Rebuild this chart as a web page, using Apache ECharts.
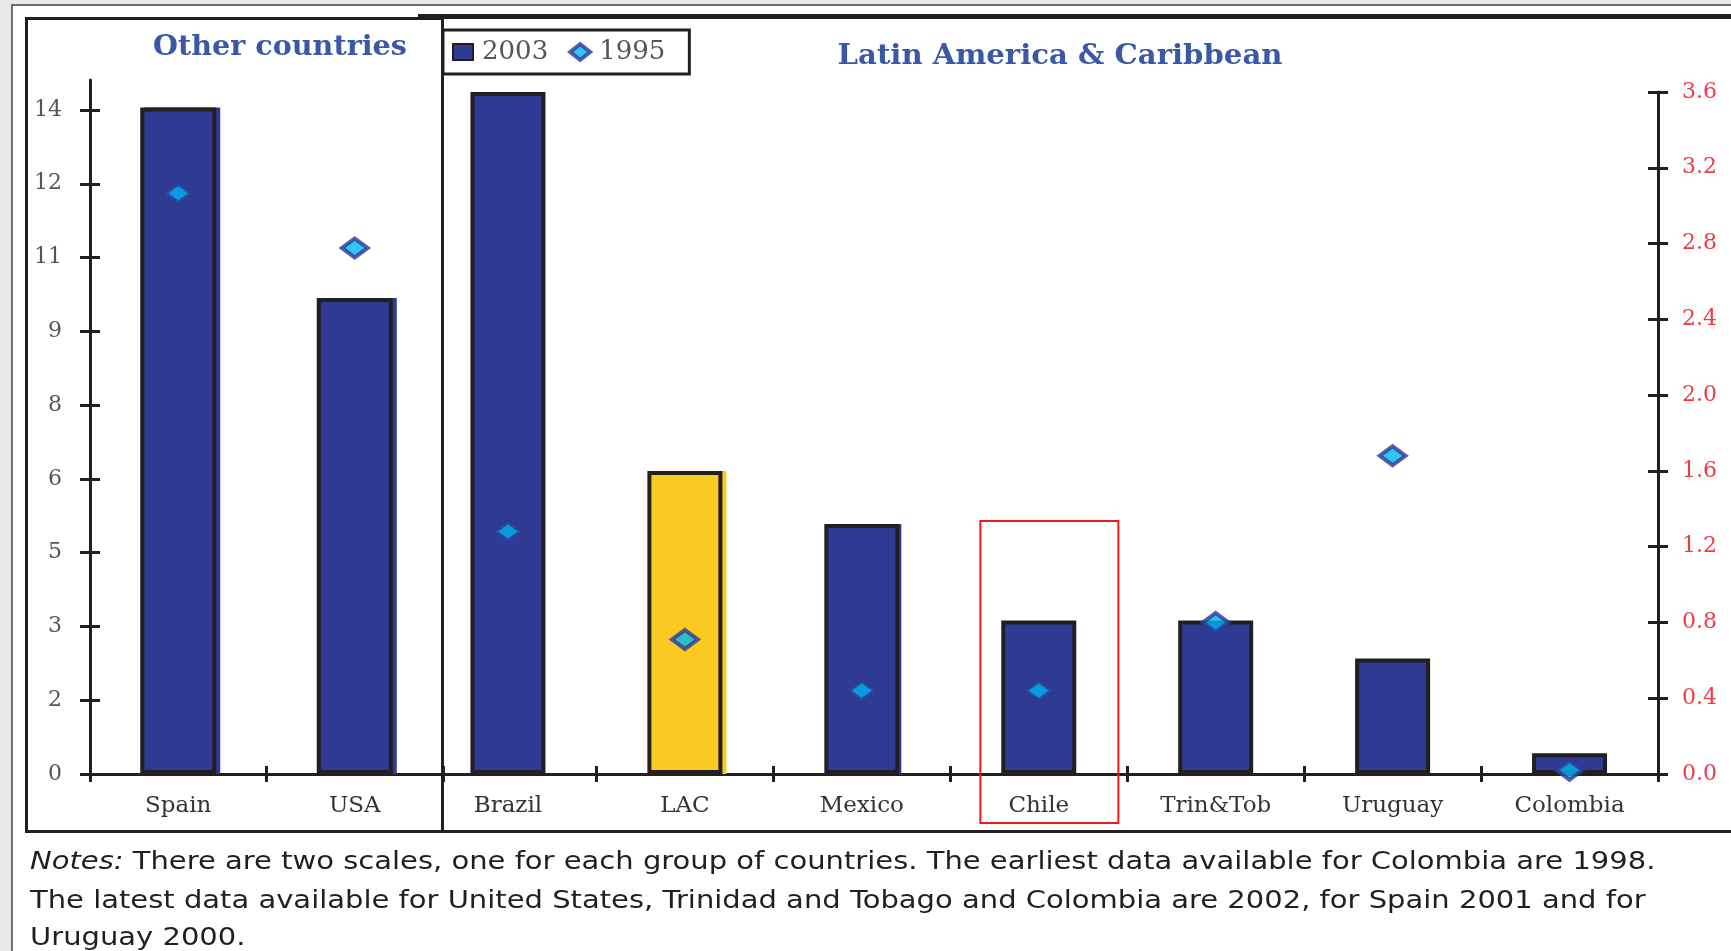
<!DOCTYPE html>
<html>
<head>
<meta charset="utf-8">
<title>Other countries / Latin America & Caribbean</title>
<script src="https://cdn.jsdelivr.net/npm/echarts@6/dist/echarts.min.js"></script>
<style>
  html, body { margin: 0; padding: 0; background: #e8e8e8; }
  #main { width: 1731px; height: 951px; }
</style>
</head>
<body>
<div id="main"></div>
<script>
// data
var otherCountries = ['Spain', 'USA'];
var other2003 = [14.0, 10.0];
var other1995 = [12.2, 11.05];

var latamCountries = ['Brazil', 'LAC', 'Mexico', 'Chile', 'Trin&Tob', 'Uruguay', 'Colombia'];
var latam2003 = [3.6, 1.6, 1.32, 0.81, 0.81, 0.61, 0.11];
var latam1995 = [1.28, 0.71, 0.44, 0.44, 0.8, 1.68, 0.02];

// left scale has odd rounded labels (steps of 1.55)
var leftTicks = [0, 1.55, 3.1, 4.65, 6.2, 7.75, 9.3, 10.85, 12.4, 13.95];
var rightTicks = [0, 0.4, 0.8, 1.2, 1.6, 2.0, 2.4, 2.8, 3.2, 3.6];

var BLUE = '#2e3a94';
var YELLOW = '#f9cb22';
var CYAN = '#00b4f0';
var INK = '#231f20';

var myChart = echarts.init(document.getElementById('main'));

function barItems(values, names) {
    return values.map(function (v, i) {
        var item = { value: v, itemStyle: {} };
        if (names[i] === 'LAC') item.itemStyle.color = YELLOW;
        // some bars have a thin coloured edge on the right
        if (['Spain', 'USA', 'LAC', 'Mexico'].indexOf(names[i]) >= 0) {
            item.itemStyle.shadowColor = names[i] === 'LAC' ? YELLOW : BLUE;
            item.itemStyle.shadowOffsetX = names[i] === 'Mexico' ? 2 : 4;
            item.itemStyle.shadowBlur = 0;
        }
        return item;
    });
}

var axisLine = { show: true, lineStyle: { color: INK, width: 3 } };
var tickStyle = { color: INK, width: 3 };

function catAxis(grid, data, inside, skipFirst) {
    return {
        type: 'category',
        gridIndex: grid,
        data: data,
        position: 'bottom',
        axisLine: inside ? { show: false } : axisLine,
        axisTick: {
            show: true, inside: inside, length: 8, lineStyle: tickStyle,
            interval: skipFirst ? function (i) { return i !== 0; } : 0
        },
        axisLabel: inside ? { show: false } : {
            interval: 0, margin: 21, color: '#333',
            fontFamily: 'DejaVu Serif', fontSize: 23
        },
        splitLine: { show: false }
    };
}

function valAxis(grid, pos, max, ticks, inside, labelColor, fmt, margin) {
    return {
        type: 'value',
        gridIndex: grid,
        position: pos,
        min: 0,
        max: max,
        interval: ticks[1],
        axisLine: inside ? { show: false } : axisLine,
        axisTick: { show: true, inside: inside, length: 10, lineStyle: tickStyle, customValues: ticks },
        axisLabel: inside ? { show: false } : {
            customValues: ticks, formatter: fmt, margin: margin,
            color: labelColor, fontFamily: 'DejaVu Serif', fontSize: 22
        },
        splitLine: { show: false }
    };
}

var option = {
    backgroundColor: '#e8e8e8',
    animation: false,
    grid: [
        { left: 90, right: 1731 - 443, top: 80, bottom: 951 - 774, outerBoundsMode: 'none' },
        { left: 419.5, right: 1731 - 1658, top: 92, bottom: 951 - 774, outerBoundsMode: 'none' }
    ],
    legend: {
        data: [
            { name: '2003', icon: 'rect', itemStyle: { borderWidth: 2 } },
            { name: '1995', icon: 'diamond', itemStyle: { borderWidth: 4 } }
        ],
        left: 443,
        top: 30,
        orient: 'horizontal',
        itemWidth: 20,
        itemHeight: 16,
        itemGap: 20,
        padding: [9, 24, 9, 9],
        borderColor: INK,
        borderWidth: 3,
        backgroundColor: '#ffffff',
        selectedMode: false,
        textStyle: { fontFamily: 'DejaVu Serif', fontSize: 26, color: '#555', padding: [0, 0, 0, 4] }
    },
    xAxis: [
        catAxis(0, otherCountries, false, false),
        catAxis(0, otherCountries, true, false),
        catAxis(1, latamCountries, false, true),
        catAxis(1, latamCountries, true, true)
    ],
    yAxis: [
        valAxis(0, 'left', 14.58, leftTicks, false, '#555',
            function (v) { return Math.round(v); }, 28),
        valAxis(0, 'left', 14.58, leftTicks, true),
        valAxis(1, 'right', 3.6, rightTicks, false, '#ef3b43',
            function (v) { return v.toFixed(1); }, 24),
        valAxis(1, 'right', 3.6, rightTicks, true)
    ],
    series: [
        {
            name: '2003', type: 'bar', xAxisIndex: 0, yAxisIndex: 0,
            barWidth: 76,
            itemStyle: { color: BLUE, borderColor: INK, borderWidth: 4 },
            data: barItems(other2003, otherCountries),
            silent: true
        },
        {
            name: '1995', type: 'scatter', xAxisIndex: 0, yAxisIndex: 0,
            symbol: 'diamond', symbolSize: [26, 19], z: 5,
            itemStyle: { color: CYAN, borderColor: BLUE, borderWidth: 4 },
            data: other1995,
            silent: true
        },
        {
            name: '2003', type: 'bar', xAxisIndex: 2, yAxisIndex: 2,
            barWidth: 75,
            itemStyle: { color: BLUE, borderColor: INK, borderWidth: 4 },
            data: barItems(latam2003, latamCountries),
            silent: true
        },
        {
            name: '1995', type: 'scatter', xAxisIndex: 2, yAxisIndex: 2,
            symbol: 'diamond', symbolSize: [26, 19], z: 5,
            itemStyle: { color: CYAN, borderColor: BLUE, borderWidth: 4 },
            data: latam1995,
            silent: true
        }
    ]
};

myChart.setOption(option);

// frames, panel titles, notes and the red box around Chile
var chileX = myChart.convertToPixel({ xAxisIndex: 2 }, 'Chile');
var band = myChart.convertToPixel({ xAxisIndex: 2 }, 'Trin&Tob') - chileX;
var zeroY = myChart.convertToPixel({ yAxisIndex: 2 }, 0);
var boxTop = myChart.convertToPixel({ yAxisIndex: 2 }, 1.335);
var boxLeft = chileX - band * 0.33;
var boxRight = chileX + band * 0.45;

var noteFont = { fontFamily: 'DejaVu Sans', fontSize: 25 };
var noteStretch = 1.16;

function noteLine(y, text) {
    return {
        type: 'text', silent: true, x: 30, y: y, scaleX: noteStretch,
        style: {
            text: text, verticalAlign: 'middle',
            fontFamily: noteFont.fontFamily, fontSize: noteFont.fontSize, fill: INK,
            rich: { i: { fontStyle: 'italic', fontFamily: noteFont.fontFamily, fontSize: noteFont.fontSize, fill: INK } }
        }
    };
}

myChart.setOption({
    graphic: [
        { type: 'rect', z: -10, silent: true,
          shape: { x: 12, y: 5, width: 1740, height: 960 },
          style: { fill: '#ffffff', stroke: '#444', lineWidth: 1.5 } },
        { type: 'line', z: -5, silent: true,
          shape: { x1: 418, y1: 16.5, x2: 1731, y2: 16.5 },
          style: { stroke: INK, lineWidth: 5 } },
        { type: 'line', z: -5, silent: true,
          shape: { x1: 26.5, y1: 831.5, x2: 1731, y2: 831.5 },
          style: { stroke: INK, lineWidth: 3 } },
        { type: 'rect', z: -4, silent: true,
          shape: { x: 26.5, y: 18.5, width: 416, height: 813 },
          style: { fill: null, stroke: INK, lineWidth: 3 } },
        { type: 'text', silent: true, x: 280, y: 48, scaleX: 1.06,
          style: { text: 'Other countries', align: 'center', verticalAlign: 'middle',
                   fontFamily: 'DejaVu Serif', fontWeight: 'bold', fontSize: 27, fill: '#3a58a6' } },
        { type: 'text', silent: true, x: 1060, y: 57, scaleX: 1.08,
          style: { text: 'Latin America & Caribbean', align: 'center', verticalAlign: 'middle',
                   fontFamily: 'DejaVu Serif', fontWeight: 'bold', fontSize: 27, fill: '#3a58a6' } },
        { type: 'rect', silent: true, z: 10,
          shape: { x: boxLeft, y: boxTop, width: boxRight - boxLeft, height: zeroY + 49 - boxTop },
          style: { fill: null, stroke: '#f01818', lineWidth: 2 } },
        noteLine(862, '{i|Notes:} There are two scales, one for each group of countries. The earliest data available for Colombia are 1998.'),
        noteLine(901, 'The latest data available for United States, Trinidad and Tobago and Colombia are 2002, for Spain 2001 and for'),
        noteLine(938, 'Uruguay 2000.')
    ]
});
</script>
</body>
</html>
